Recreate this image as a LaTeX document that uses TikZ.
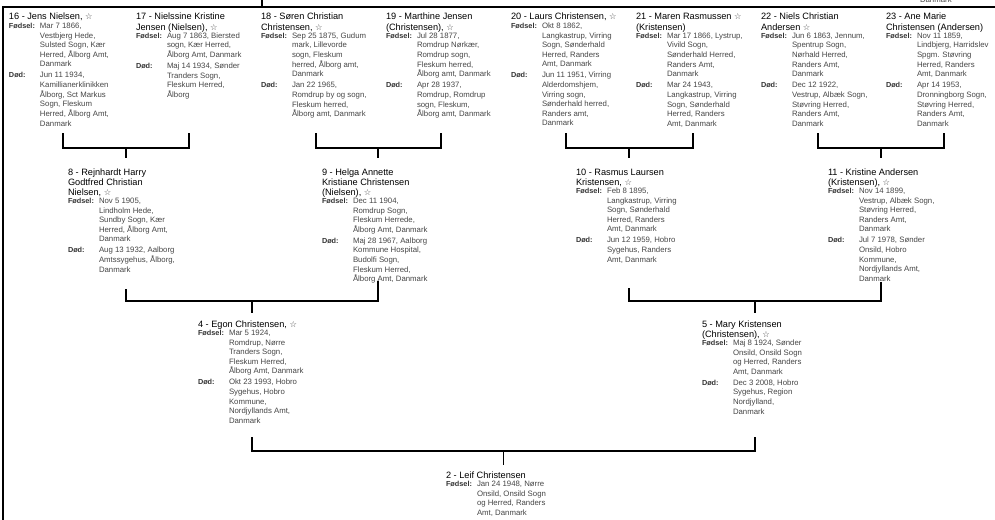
\documentclass[tikz,border=0pt]{standalone}
\usepackage{fontspec}
\setmainfont{Liberation Sans}
\newfontfamily\symf{DejaVu Sans}
\definecolor{txt}{HTML}{454545}
\definecolor{lbl}{HTML}{333333}
\newcommand\strx{{\symf\fontsize{8.3}{8}\selectfont\color{txt}☆}}
\newcommand\lab[1]{\leavevmode{\fontsize{7.3}{9.6}\selectfont\bfseries\color{lbl}#1}}
\newcommand\pers[2]{%
\begin{minipage}[t]{125pt}\raggedright
\fontsize{9.2}{10}\selectfont #1\par
\fontsize{7.8}{9.6}\selectfont\vspace{-1.2pt}%
\begin{tabular}[t]{@{}p{31pt}@{}l@{}}#2\end{tabular}\par
\end{minipage}}
\tikzset{
  pnode/.style={anchor=base west, inner sep=0pt, outer sep=0pt, text=txt},
  link/.style={draw=black, line width=1.3pt},
  frame/.style={draw=black, line width=1.7pt}
}
\newcommand\ttl[1]{\textcolor{black}{#1}}
\begin{document}
\begin{tikzpicture}[x=1pt,y=-1pt]
\useasboundingbox (0,0) rectangle (995,519);
\begin{scope}
\clip (0,0) rectangle (995,519);
% frame of the larger chart
\coordinate (fb) at (3,522);
\coordinate (ftl) at (3,7);
\coordinate (ftr) at (998,7);
\coordinate (ft) at (262,-3);
\coordinate (ftj) at (262,7);
\draw[frame] (fb) -- (ftl) -- (ftr);
\draw[frame] (ft) -- (ftj);
\node[pnode] (cut) at (920,2.2) {\fontsize{7.8}{9.6}\selectfont Danmark};

% ---- generation 4
\node[pnode] (p16) at (9,20) {\pers{\ttl{16 - Jens Nielsen,} \strx}{%
\lab{Fødsel:} & Mar 7 1866,\\ & Vestbjerg Hede,\\ & Sulsted Sogn, Kær\\ & Herred, Ålborg Amt,\\ & Danmark\\[1.5pt]
\lab{Død:} & Jun 11 1934,\\ & Kamillianerklinikken\\ & Ålborg, Sct Markus\\ & Sogn, Fleskum\\ & Herred, Ålborg Amt,\\ & Danmark}};
\node[pnode] (p17) at (136,20) {\pers{\ttl{17 - Nielssine Kristine}\\\ttl{Jensen (Nielsen),} \strx}{%
\lab{Fødsel:} & Aug 7 1863, Biersted\\ & sogn, Kær Herred,\\ & Ålborg Amt, Danmark\\[1.5pt]
\lab{Død:} & Maj 14 1934, Sønder\\ & Tranders Sogn,\\ & Fleskum Herred,\\ & Ålborg}};
\node[pnode] (p18) at (261,20) {\pers{\ttl{18 - Søren Christian}\\\ttl{Christensen,} \strx}{%
\lab{Fødsel:} & Sep 25 1875, Gudum\\ & mark, Lillevorde\\ & sogn, Fleskum\\ & herred, Ålborg amt,\\ & Danmark\\[1.5pt]
\lab{Død:} & Jan 22 1965,\\ & Romdrup by og sogn,\\ & Fleskum herred,\\ & Ålborg amt, Danmark}};
\node[pnode] (p19) at (386,20) {\pers{\ttl{19 - Marthine Jensen}\\\ttl{(Christensen),} \strx}{%
\lab{Fødsel:} & Jul 28 1877,\\ & Romdrup Nørkær,\\ & Romdrup sogn,\\ & Fleskum herred,\\ & Ålborg amt, Danmark\\[1.5pt]
\lab{Død:} & Apr 28 1937,\\ & Romdrup, Romdrup\\ & sogn, Fleskum,\\ & Ålborg amt, Danmark}};
\node[pnode] (p20) at (511,20) {\pers{\ttl{20 - Laurs Christensen,} \strx}{%
\lab{Fødsel:} & Okt 8 1862,\\ & Langkastrup, Virring\\ & Sogn, Sønderhald\\ & Herred, Randers\\ & Amt, Danmark\\[1.5pt]
\lab{Død:} & Jun 11 1951, Virring\\ & Alderdomshjem,\\ & Virring sogn,\\ & Sønderhald herred,\\ & Randers amt,\\ & Danmark}};
\node[pnode] (p21) at (636,20) {\pers{\ttl{21 - Maren Rasmussen} \strx\\\ttl{(Kristensen)}}{%
\lab{Fødsel:} & Mar 17 1866, Lystrup,\\ & Vivild Sogn,\\ & Sønderhald Herred,\\ & Randers Amt,\\ & Danmark\\[1.5pt]
\lab{Død:} & Mar 24 1943,\\ & Langkastrup, Virring\\ & Sogn, Sønderhald\\ & Herred, Randers\\ & Amt, Danmark}};
\node[pnode] (p22) at (761,20) {\pers{\ttl{22 - Niels Christian}\\\ttl{Andersen} \strx}{%
\lab{Fødsel:} & Jun 6 1863, Jennum,\\ & Spentrup Sogn,\\ & Nørhald Herred,\\ & Randers Amt,\\ & Danmark\\[1.5pt]
\lab{Død:} & Dec 12 1922,\\ & Vestrup, Albæk Sogn,\\ & Støvring Herred,\\ & Randers Amt,\\ & Danmark}};
\node[pnode] (p23) at (886,20) {\pers{\ttl{23 - Ane Marie}\\\ttl{Christensen (Andersen)}}{%
\lab{Fødsel:} & Nov 11 1859,\\ & Lindbjerg, Harridslev\\ & Spgm. Støvring\\ & Herred, Randers\\ & Amt, Danmark\\[1.5pt]
\lab{Død:} & Apr 14 1953,\\ & Dronningborg Sogn,\\ & Støvring Herred,\\ & Randers Amt,\\ & Danmark}};

% ---- generation 3
\node[pnode] (p8) at (68,175) {\pers{\ttl{8 - Rejnhardt Harry}\\\ttl{Godtfred Christian}\\\ttl{Nielsen,} \strx}{%
\lab{Fødsel:} & Nov 5 1905,\\ & Lindholm Hede,\\ & Sundby Sogn, Kær\\ & Herred, Ålborg Amt,\\ & Danmark\\[1.5pt]
\lab{Død:} & Aug 13 1932, Aalborg\\ & Amtssygehus, Ålborg,\\ & Danmark}};
\node[pnode] (p9) at (322,175) {\pers{\ttl{9 - Helga Annette}\\\ttl{Kristiane Christensen}\\\ttl{(Nielsen),} \strx}{%
\lab{Fødsel:} & Dec 11 1904,\\ & Romdrup Sogn,\\ & Fleskum Herrede,\\ & Ålborg Amt, Danmark\\[1.5pt]
\lab{Død:} & Maj 28 1967, Aalborg\\ & Kommune Hospital,\\ & Budolfi Sogn,\\ & Fleskum Herred,\\ & Ålborg Amt, Danmark}};
\node[pnode] (p10) at (576,175) {\pers{\ttl{10 - Rasmus Laursen}\\\ttl{Kristensen,} \strx}{%
\lab{Fødsel:} & Feb 8 1895,\\ & Langkastrup, Virring\\ & Sogn, Sønderhald\\ & Herred, Randers\\ & Amt, Danmark\\[1.5pt]
\lab{Død:} & Jun 12 1959, Hobro\\ & Sygehus, Randers\\ & Amt, Danmark}};
\node[pnode] (p11) at (828,175) {\pers{\ttl{11 - Kristine Andersen}\\\ttl{(Kristensen),} \strx}{%
\lab{Fødsel:} & Nov 14 1899,\\ & Vestrup, Albæk Sogn,\\ & Støvring Herred,\\ & Randers Amt,\\ & Danmark\\[1.5pt]
\lab{Død:} & Jul 7 1978, Sønder\\ & Onsild, Hobro\\ & Kommune,\\ & Nordjyllands Amt,\\ & Danmark}};

% ---- generation 2
\node[pnode] (p4) at (198,327) {\pers{\ttl{4 - Egon Christensen,} \strx}{%
\lab{Fødsel:} & Mar 5 1924,\\ & Romdrup, Nørre\\ & Tranders Sogn,\\ & Fleskum Herred,\\ & Ålborg Amt, Danmark\\[1.5pt]
\lab{Død:} & Okt 23 1993, Hobro\\ & Sygehus, Hobro\\ & Kommune,\\ & Nordjyllands Amt,\\ & Danmark}};
\node[pnode] (p5) at (702,327) {\pers{\ttl{5 - Mary Kristensen}\\\ttl{(Christensen),} \strx}{%
\lab{Fødsel:} & Maj 8 1924, Sønder\\ & Onsild, Onsild Sogn\\ & og Herred, Randers\\ & Amt, Danmark\\[1.5pt]
\lab{Død:} & Dec 3 2008, Hobro\\ & Sygehus, Region\\ & Nordjylland,\\ & Danmark}};

% ---- generation 1
\node[pnode] (p2) at (446,478) {\pers{\ttl{2 - Leif Christensen}}{%
\lab{Fødsel:} & Jan 24 1948, Nørre\\ & Onsild, Onsild Sogn\\ & og Herred, Randers\\ & Amt, Danmark}};

% ---- connector points
\coordinate (o16) at (63,133);  \coordinate (o17) at (189,133);
\coordinate (o18) at (316,133); \coordinate (o19) at (441,133);
\coordinate (o20) at (566,133); \coordinate (o21) at (693,133);
\coordinate (o22) at (818,133); \coordinate (o23) at (944,133);
\coordinate (j8) at (126,148);  \coordinate (i8) at (126,158);
\coordinate (j9) at (378,148);  \coordinate (i9) at (378,158);
\coordinate (j10) at (629,148); \coordinate (i10) at (629,158);
\coordinate (j11) at (881,148); \coordinate (i11) at (881,158);
\coordinate (o8) at (126,289);  \coordinate (o9) at (378,281);
\coordinate (o10) at (629,288); \coordinate (o11) at (881,282);
\coordinate (j4) at (252,301);  \coordinate (i4) at (252,313);
\coordinate (j5) at (755,301);  \coordinate (i5) at (755,313);
\coordinate (o4) at (252,437);  \coordinate (o5) at (755,437);
\coordinate (j2) at (503.5,451); \coordinate (i2) at (503.5,465);

% ---- connectors
\draw[link] (o16) |- (j8) -| (o17);  \draw[link] (j8) -- (i8);
\draw[link] (o18) |- (j9) -| (o19);  \draw[link] (j9) -- (i9);
\draw[link] (o20) |- (j10) -| (o21); \draw[link] (j10) -- (i10);
\draw[link] (o22) |- (j11) -| (o23); \draw[link] (j11) -- (i11);
\draw[link] (o8) |- (j4) -| (o9);    \draw[link] (j4) -- (i4);
\draw[link] (o10) |- (j5) -| (o11);  \draw[link] (j5) -- (i5);
\draw[link] (o4) |- (j2) -| (o5);    \draw[link] (j2) -- (i2);
\end{scope}
\end{tikzpicture}
\end{document}
